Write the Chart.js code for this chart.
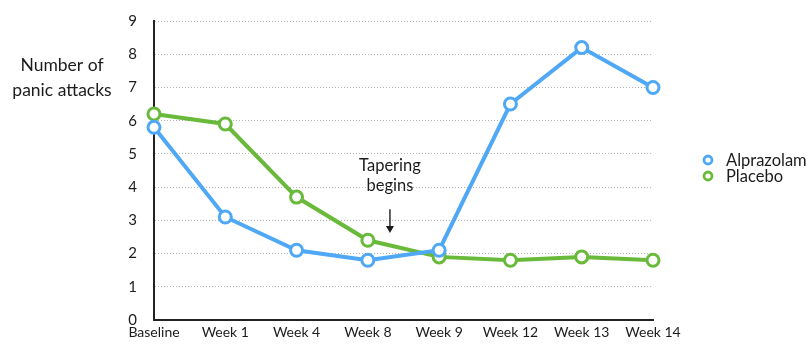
<!DOCTYPE html>
<html>
<head>
<meta charset="utf-8">
<script src="https://cdn.jsdelivr.net/npm/chart.js@4/dist/chart.umd.min.js"></script>
<style>
  html, body { margin: 0; padding: 0; background: #fff; }
  #wrap { width: 810px; height: 344px; }
</style>
</head>
<body>
<div id="wrap"><canvas id="c" width="810" height="344"></canvas></div>
<script>
const categories = ['Baseline', 'Week 1', 'Week 4', 'Week 8', 'Week 9', 'Week 12', 'Week 13', 'Week 14'];
const alprazolam = [5.8, 3.1, 2.1, 1.8, 2.1, 6.5, 8.2, 7.0];
const placebo = [6.2, 5.9, 3.7, 2.4, 1.9, 1.8, 1.9, 1.8];
const seriesNames = ['Alprazolam', 'Placebo'];
const yTitle = ['Number of', 'panic attacks'];
const noteLines = ['Tapering', 'begins'];

const FONT = 'Lato, "Open Sans", sans-serif';
const BLUE = '#4fa8f5';
const GREEN = '#69ba3a';
const INK = '#1c1c1c';

// Y-axis title, tapering note and side legend
const extras = {
  id: 'extras',
  afterDraw(chart) {
    const ctx = chart.ctx;
    const x = chart.scales.x, y = chart.scales.y;
    ctx.save();
    ctx.fillStyle = INK;
    ctx.font = '17.5px ' + FONT;
    ctx.textAlign = 'center';
    ctx.textBaseline = 'middle';
    const tx = 62;
    ctx.fillText(yTitle[0], tx, y.getPixelForValue(7.65));
    ctx.fillText(yTitle[1], tx, y.getPixelForValue(6.9));

    // note between Week 8 and Week 9
    const nx = x.getPixelForValue(3.31);
    ctx.font = '16.5px ' + FONT;
    ctx.fillText(noteLines[0], nx, y.getPixelForValue(4.65));
    ctx.fillText(noteLines[1], nx, y.getPixelForValue(4.05));
    const a0 = y.getPixelForValue(3.33), a1 = y.getPixelForValue(2.62);
    ctx.strokeStyle = INK;
    ctx.lineWidth = 1.4;
    ctx.beginPath();
    ctx.moveTo(nx, a0);
    ctx.lineTo(nx, a1 - 4);
    ctx.stroke();
    ctx.beginPath();
    ctx.moveTo(nx - 4, a1 - 7);
    ctx.lineTo(nx + 4, a1 - 7);
    ctx.lineTo(nx, a1);
    ctx.closePath();
    ctx.fill();

    // legend
    ctx.textAlign = 'left';
    ctx.font = '16.5px ' + FONT;
    chart.data.datasets.forEach((ds, i) => {
      const ly = 160 + i * 16;
      ctx.beginPath();
      ctx.arc(708, ly, 4, 0, Math.PI * 2);
      ctx.strokeStyle = ds.borderColor;
      ctx.lineWidth = 2.8;
      ctx.fillStyle = '#fff';
      ctx.fill();
      ctx.stroke();
      ctx.fillStyle = INK;
      ctx.fillText(ds.label, 726, ly + 1);
    });
    ctx.restore();
  }
};

new Chart(document.getElementById('c'), {
  type: 'line',
  data: {
    labels: categories,
    datasets: [
      {
        label: seriesNames[0], data: alprazolam,
        borderColor: BLUE, backgroundColor: '#fff',
        borderWidth: 4, pointRadius: 6, pointBorderWidth: 3,
        pointBackgroundColor: '#fff', pointBorderColor: BLUE, tension: 0
      },
      {
        label: seriesNames[1], data: placebo,
        borderColor: GREEN, backgroundColor: '#fff',
        borderWidth: 4, pointRadius: 6, pointBorderWidth: 3,
        pointBackgroundColor: '#fff', pointBorderColor: GREEN, tension: 0
      }
    ]
  },
  options: {
    responsive: false,
    animation: false,
    devicePixelRatio: 1,
    layout: { padding: { left: 114, right: 157, top: 21, bottom: 0 } },
    plugins: { legend: { display: false }, tooltip: { enabled: false } },
    scales: {
      x: {
        offset: false,
        grid: { display: false, drawTicks: false },
        border: { display: true, color: '#222', width: 2 },
        ticks: { color: INK, font: { family: FONT, size: 14 }, padding: 4, maxRotation: 0, autoSkip: false },
        afterFit(s) { s.height = 24; }
      },
      y: {
        min: 0, max: 9,
        grid: { color: '#b0b0b0', lineWidth: 1, drawTicks: false },
        border: { display: true, color: '#222', width: 2, dash: [1, 2] },
        ticks: { stepSize: 1, color: INK, font: { family: FONT, size: 15 }, padding: 17 },
        afterFit(s) { s.width = 40; s.paddingTop = 0; s.paddingBottom = 0; }
      }
    }
  },
  plugins: [extras]
});
</script>
</body>
</html>
